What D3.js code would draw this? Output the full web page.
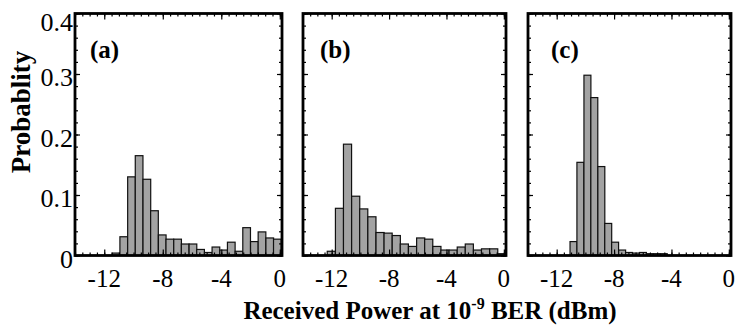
<!DOCTYPE html>
<html>
<head>
<meta charset="utf-8">
<script src="https://cdn.jsdelivr.net/npm/d3@7"></script>
<style>
  body { margin: 0; background: #fff; }
  text { font-family: "Liberation Serif", "Times New Roman", serif; }
</style>
</head>
<body>
<div id="chart"></div>
<script>
// ---- data ----
const panelNames = ["(a)", "(b)", "(c)"];
const xTickValues = [-12, -8, -4, 0];
const yTickValues = [0, 0.1, 0.2, 0.3, 0.4];
const yTickLabels = ["0", "0.1", "0.2", "0.3", "0.4"];

// left edge of every histogram bin (dBm)
const binsA = [-11.45, -10.93, -10.4, -9.88, -9.35, -8.83, -8.3, -7.78, -7.25, -6.73, -6.2,
               -5.68, -5.15, -4.63, -4.1, -3.58, -3.05, -2.53, -2.0, -1.48, -0.95, -0.43];
const binsB = [-12.31, -11.74, -11.18, -10.61, -10.05, -9.48, -8.91, -8.35, -7.78, -7.22, -6.65,
               -6.08, -5.52, -4.95, -4.39, -3.82, -3.25, -2.69, -2.12, -1.56, -0.99, -0.42];
const binsC = [-11.07, -10.59, -10.1, -9.62, -9.13, -8.65, -8.17, -7.68, -7.2, -6.71, -6.23,
               -5.75, -5.26, -4.78];
const binWidths = [0.525, 0.566, 0.484];

// probability per bin
const probA = [0.004, 0.031, 0.130, 0.165, 0.126, 0.074, 0.034, 0.027, 0.027, 0.019, 0.019,
               0.010, 0.005, 0.014, 0.009, 0.022, 0.007, 0.046, 0.023, 0.039, 0.029, 0.027];
const probB = [0.007, 0.078, 0.184, 0.098, 0.077, 0.064, 0.038, 0.037, 0.033, 0.019, 0.015,
               0.029, 0.027, 0.015, 0.009, 0.009, 0.014, 0.019, 0.009, 0.011, 0.011, 0.003];
const probC = [0.023, 0.154, 0.298, 0.261, 0.147, 0.053, 0.022, 0.009, 0.005, 0.004, 0.005,
               0.003, 0.003, 0.003];

const allBins = [binsA, binsB, binsC];
const allProb = [probA, probB, probC];

// ---- layout ----
const W = 738, H = 327;
const plotTop = 13.5, plotBottom = 255.5;
const panels = [
  {left: 75, right: 282, labelDx: 15},
  {left: 303, right: 506, labelDx: 17},
  {left: 528, right: 731, labelDx: 23}
];

const svg = d3.select("#chart").append("svg")
  .attr("width", W)
  .attr("height", H);

const y = d3.scaleLinear().domain([0, 0.4]).range([plotBottom, plotTop]);

panels.forEach((p, i) => {
  const x = d3.scaleLinear().domain([-14, 0.15]).range([p.left, p.right]);
  const g = svg.append("g");

  g.append("clipPath").attr("id", "clip" + i)
    .append("rect")
    .attr("x", p.left).attr("y", plotTop)
    .attr("width", p.right - p.left).attr("height", plotBottom - plotTop);

  // bars
  const rows = allBins[i].map((b, j) => ({x0: b, x1: b + binWidths[i], v: allProb[i][j]}));
  g.append("g").attr("clip-path", `url(#clip${i})`)
    .selectAll("rect")
    .data(rows)
    .enter().append("rect")
    .attr("x", d => x(d.x0))
    .attr("width", d => x(d.x1) - x(d.x0))
    .attr("y", d => y(d.v))
    .attr("height", d => y(0) - y(d.v))
    .style("fill", "#a3a3a3")
    .style("stroke", "#111")
    .style("stroke-width", "1.2px");

  // inward ticks on all four sides
  const minorX = d3.range(-14, 0.01, 0.5);
  const minorY = d3.range(0, 0.401, 0.02);
  const addAxis = (axis, tr) => {
    const a = g.append("g").attr("transform", tr).call(axis);
    a.select(".domain").remove();
    a.selectAll("line").style("stroke", "#000").style("stroke-width", "1.2px");
    a.selectAll("text").remove();
  };
  addAxis(d3.axisBottom(x).tickValues(minorX).tickSize(-3), `translate(0,${plotBottom})`);
  addAxis(d3.axisBottom(x).tickValues(xTickValues).tickSize(-6), `translate(0,${plotBottom})`);
  addAxis(d3.axisTop(x).tickValues(minorX).tickSize(-3), `translate(0,${plotTop})`);
  addAxis(d3.axisTop(x).tickValues(xTickValues).tickSize(-6), `translate(0,${plotTop})`);
  addAxis(d3.axisLeft(y).tickValues(minorY).tickSize(-3), `translate(${p.left},0)`);
  addAxis(d3.axisLeft(y).tickValues(yTickValues).tickSize(-5), `translate(${p.left},0)`);
  addAxis(d3.axisRight(y).tickValues(minorY).tickSize(-3), `translate(${p.right},0)`);
  addAxis(d3.axisRight(y).tickValues(yTickValues).tickSize(-5), `translate(${p.right},0)`);

  // frame
  g.append("rect")
    .attr("x", p.left).attr("y", plotTop)
    .attr("width", p.right - p.left).attr("height", plotBottom - plotTop)
    .style("fill", "none")
    .style("stroke", "#000")
    .style("stroke-width", "2.8px");

  // x tick labels
  g.selectAll(".xlab")
    .data(xTickValues)
    .enter().append("text")
    .attr("x", d => x(d))
    .attr("y", 287)
    .attr("text-anchor", "middle")
    .style("font-size", "25px")
    .text(d => d);

  // panel name
  g.append("text")
    .attr("x", p.left + p.labelDx)
    .attr("y", 58)
    .style("font-size", "25px")
    .style("font-weight", "bold")
    .text(panelNames[i]);
});

// y tick labels on the first panel only
svg.selectAll(".ylab")
  .data(yTickValues)
  .enter().append("text")
  .attr("x", 73)
  .attr("y", d => Math.max(y(d) + 3, 22))
  .attr("dy", "0.35em")
  .attr("text-anchor", "end")
  .style("font-size", "26px")
  .text((d, i) => yTickLabels[i]);

// axis titles
svg.append("text")
  .attr("transform", "translate(30,112) rotate(-90)")
  .attr("text-anchor", "middle")
  .style("font-size", "27px")
  .style("font-weight", "bold")
  .text("Probablity");

const xt = svg.append("text")
  .attr("x", 430)
  .attr("y", 319)
  .attr("text-anchor", "middle")
  .style("font-size", "25px")
  .style("font-weight", "bold");
xt.append("tspan").text("Received Power at 10");
xt.append("tspan").attr("dy", -10).style("font-size", "16px").text("-9");
xt.append("tspan").attr("dy", 10).text(" BER (dBm)");
</script>
</body>
</html>
